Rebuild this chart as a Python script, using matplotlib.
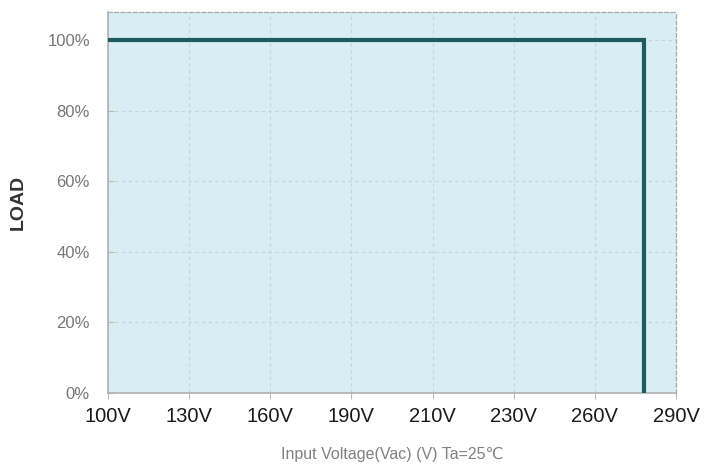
import matplotlib
matplotlib.use("Agg")
import matplotlib.pyplot as plt
import numpy as np

plt.rcParams['font.family'] = ['Liberation Sans', 'DejaVu Sans']

# Data
voltage_labels = ["100V", "130V", "160V", "190V", "210V", "230V", "260V", "290V"]
voltage_values = [100, 130, 160, 190, 210, 230, 260, 290]
load_voltage = [100, 278, 278]
load_percent = [100, 100, 0]
y_ticks = [0, 20, 40, 60, 80, 100]

fig = plt.figure(figsize=(7.17, 4.68), dpi=100)
ax = fig.add_axes([0.1506, 0.1603, 0.7922, 0.8141])
ax.set_facecolor("#d9eef2")

# map voltages onto the categorical (evenly spaced) axis
pos = np.arange(len(voltage_labels))
line_x = np.interp(load_voltage, voltage_values, pos)
ax.plot(line_x, load_percent, color="#1f5a5e", lw=3, solid_joinstyle="miter", zorder=3)

ax.set_xlim(0, len(voltage_labels) - 1)
ax.set_ylim(0, 108)
ax.set_xticks(pos)
ax.set_xticklabels(voltage_labels, fontsize=14.5, color="#1a1a1a")
ax.set_yticks(y_ticks)
ax.set_yticklabels([f"{v}%" for v in y_ticks], fontsize=12, color="#777777")
ax.tick_params(axis="x", length=4, color="#bbbbbb", pad=6)
ax.tick_params(axis="y", length=4, color="#bbbbbb", direction="in", pad=13)

ax.grid(True, color="#c4d6da", linestyle=(0, (3, 3)), lw=0.8)
ax.set_axisbelow(True)

for s in ["left", "bottom"]:
    ax.spines[s].set_color("#b0b0b0")
    ax.spines[s].set_linewidth(1.2)
for s in ["top", "right"]:
    ax.spines[s].set_color("#a8a8a8")
    ax.spines[s].set_linestyle((0, (3, 2)))
    ax.spines[s].set_linewidth(0.9)

ax.set_xlabel("Input Voltage(Vac) (V) Ta=25℃", fontsize=11.5, color="#808080", labelpad=15)
ax.set_ylabel("LOAD", fontsize=14, fontweight="bold", color="#333333", labelpad=15)

fig.savefig("out.png", dpi=100)
